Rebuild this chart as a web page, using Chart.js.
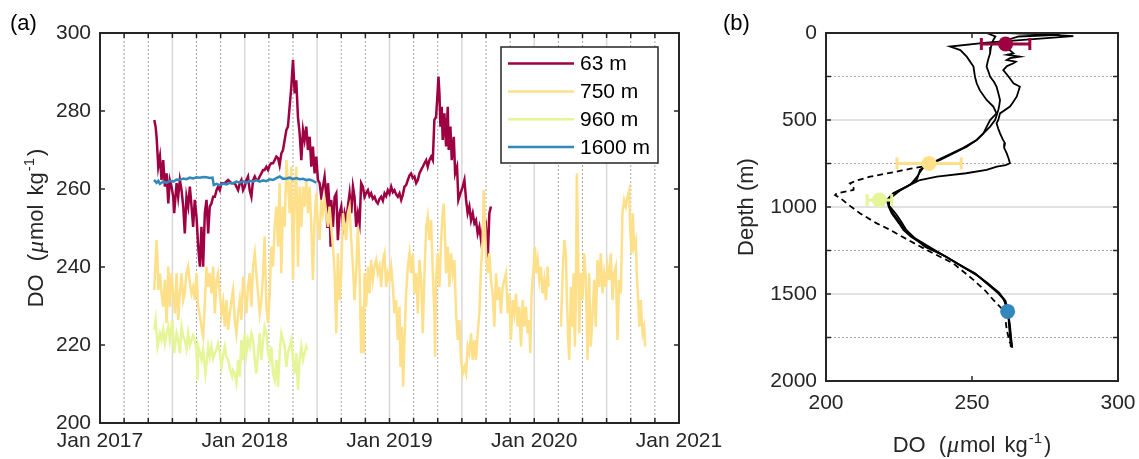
<!DOCTYPE html>
<html>
<head>
<meta charset="utf-8">
<script src="https://cdn.jsdelivr.net/npm/chart.js@4.4.1/dist/chart.umd.min.js"></script>
<style>
html,body{margin:0;padding:0;background:#fff;overflow:hidden;}
#wrap{position:relative;width:1139px;height:459px;}
#wrap canvas{position:absolute;left:0;top:0;}
</style>
</head>
<body>
<div id="wrap">
<canvas id="ca" width="1139" height="459"></canvas>
<canvas id="cb" width="1139" height="459"></canvas>
</div>
<script>
// ---------------- DATA: panel (a) time series, [months since Jan 2017, DO] ----------------
const s63 = [[4.50,277.7],[4.61,276.0],[4.69,273.4],[4.83,265.7],[4.97,268.3],[5.10,262.3],[5.24,267.4],[5.38,260.6],[5.52,264.0],[5.66,256.3],[5.79,262.3],[5.93,260.6],[6.07,258.0],[6.15,253.8],[6.35,261.5],[6.48,258.0],[6.62,262.3],[6.76,259.7],[6.90,255.5],[7.03,248.6],[7.17,258.0],[7.31,255.5],[7.45,260.6],[7.59,255.5],[7.72,250.3],[7.86,257.2],[8.00,252.9],[8.14,245.2],[8.28,240.1],[8.41,250.3],[8.55,240.1],[8.69,253.8],[8.83,257.2],[8.97,248.6],[9.10,255.5],[9.24,256.3],[9.38,258.0],[9.52,258.0],[9.66,259.7],[9.79,260.6],[9.93,259.7],[10.07,261.5],[10.35,261.5],[10.62,262.3],[10.90,261.5],[11.17,261.5],[11.31,260.6],[11.45,259.7],[11.59,261.5],[11.72,262.3],[11.86,259.7],[12.00,260.6],[12.14,262.3],[12.27,263.2],[12.41,259.7],[12.55,258.0],[12.69,262.3],[12.83,263.2],[12.96,262.3],[13.10,262.3],[13.24,263.2],[13.38,264.0],[13.52,264.9],[13.65,264.9],[13.79,265.7],[13.93,264.9],[14.07,266.1],[14.20,266.6],[14.34,266.6],[14.48,267.4],[14.62,268.3],[14.76,267.9],[14.89,266.1],[15.03,269.1],[15.17,270.0],[15.31,272.6],[15.45,275.1],[15.58,276.0],[15.72,281.1],[15.86,286.2],[16.00,293.1],[16.14,284.5],[16.27,287.9],[16.41,278.5],[16.55,274.3],[16.69,267.4],[16.83,275.1],[16.96,272.6],[17.10,276.0],[17.24,270.0],[17.38,273.4],[17.52,265.7],[17.65,270.9],[17.79,264.0],[17.93,268.3],[18.07,262.3],[18.21,261.5],[18.34,258.0],[18.48,260.6],[18.62,263.2],[18.76,258.0],[18.84,250.3],[18.90,261.5],[19.03,255.5],[19.12,245.2],[19.17,257.2],[19.31,250.3],[19.45,258.0],[19.59,258.9],[19.72,246.9],[19.86,253.8],[20.00,255.5],[20.14,250.3],[20.28,253.8],[20.41,252.0],[20.55,255.5],[20.69,258.9],[20.83,253.8],[20.97,260.6],[21.10,258.0],[21.24,250.3],[21.38,253.8],[21.52,251.2],[21.65,261.5],[21.79,260.6],[21.93,258.0],[22.07,259.0],[22.21,259.7],[22.34,258.2],[22.48,258.9],[22.62,257.5],[22.76,258.0],[22.90,256.8],[23.03,256.3],[23.17,257.4],[23.31,258.0],[23.45,257.0],[23.59,258.9],[23.72,258.2],[23.86,259.7],[24.00,258.8],[24.14,260.6],[24.28,259.2],[24.41,259.7],[24.55,258.6],[24.69,258.0],[24.83,258.9],[24.97,257.2],[25.10,258.5],[25.24,260.6],[25.38,261.0],[25.52,262.3],[25.66,263.5],[25.79,264.0],[25.93,262.8],[26.07,263.2],[26.21,261.5],[26.35,262.3],[26.48,264.0],[26.62,264.9],[26.76,265.7],[26.90,266.6],[27.04,267.4],[27.17,265.7],[27.31,267.4],[27.45,268.3],[27.59,267.4],[27.72,277.7],[27.86,278.5],[27.95,282.8],[28.06,288.8],[28.14,284.5],[28.22,276.0],[28.33,281.1],[28.41,272.6],[28.55,279.4],[28.69,270.9],[28.83,281.1],[28.91,270.0],[29.05,276.0],[29.16,267.4],[29.33,273.4],[29.44,264.0],[29.60,265.7],[29.71,257.2],[29.88,258.9],[30.07,260.6],[30.21,262.3],[30.35,257.2],[30.48,253.8],[30.62,255.5],[30.76,252.0],[30.90,253.8],[31.04,251.2],[31.17,252.0],[31.31,248.6],[31.45,250.3],[31.59,246.9],[31.72,249.5],[31.86,248.6],[32.00,250.3],[32.14,241.8],[32.28,253.8],[32.41,255.5]];

const s750 = [[4.50,234.1],[4.69,246.9],[4.77,241.8],[4.83,234.1],[4.97,238.4],[5.10,233.2],[5.24,229.8],[5.38,236.7],[5.52,225.6],[5.66,240.1],[5.79,229.8],[5.93,238.4],[6.07,233.2],[6.21,228.1],[6.35,238.4],[6.48,226.4],[6.62,233.2],[6.76,238.4],[6.90,231.5],[7.03,233.2],[7.17,238.4],[7.31,240.1],[7.45,236.0],[7.59,233.2],[7.72,234.9],[7.86,231.5],[8.00,238.4],[8.14,229.8],[8.28,227.5],[8.41,224.7],[8.55,222.1],[8.69,230.5],[8.83,240.1],[8.97,234.9],[9.10,238.4],[9.24,233.2],[9.38,240.1],[9.52,228.1],[9.66,236.7],[9.79,238.4],[9.93,233.2],[10.07,228.1],[10.21,231.0],[10.35,224.7],[10.48,231.5],[10.62,223.9],[10.76,228.0],[10.90,231.5],[11.03,234.1],[11.17,226.4],[11.31,223.0],[11.45,228.1],[11.59,231.5],[11.72,226.4],[11.86,237.5],[12.00,233.2],[12.14,228.1],[12.27,234.9],[12.41,238.4],[12.55,229.8],[12.69,240.1],[12.83,243.5],[12.96,238.4],[13.10,233.2],[13.24,228.1],[13.38,231.5],[13.52,238.4],[13.65,247.8],[13.79,229.8],[13.93,225.6],[14.07,233.2],[14.20,245.2],[14.34,240.1],[14.48,250.3],[14.62,255.5],[14.76,245.2],[14.89,261.5],[15.03,238.4],[15.17,255.5],[15.31,250.3],[15.45,267.4],[15.58,261.5],[15.72,253.8],[15.86,265.7],[16.00,236.7],[16.14,258.9],[16.27,265.7],[16.41,240.1],[16.55,260.6],[16.69,250.3],[16.83,260.6],[16.96,255.5],[17.10,262.3],[17.24,253.8],[17.38,260.6],[17.52,250.3],[17.65,236.7],[17.79,252.0],[17.93,258.9],[18.07,250.3],[18.21,246.9],[18.34,257.2],[18.48,253.8],[18.62,257.2],[18.76,253.8],[18.90,250.3],[19.03,255.5],[19.17,250.3],[19.31,245.2],[19.45,238.4],[19.59,223.0],[19.72,243.5],[19.86,231.5],[20.00,238.4],[20.14,253.8],[20.28,250.3],[20.41,246.9],[20.55,253.8],[20.69,255.5],[20.83,246.9],[20.97,240.1],[21.10,231.5],[21.24,238.4],[21.38,250.3],[21.52,238.4],[21.65,217.9],[21.79,229.8],[21.88,217.9],[21.93,238.4],[22.07,229.8],[22.21,240.1],[22.34,233.2],[22.48,241.8],[22.62,236.7],[22.76,240.1],[22.90,241.8],[23.03,238.4],[23.17,240.1],[23.31,234.9],[23.45,241.8],[23.59,243.5],[23.72,234.9],[23.86,238.4],[24.00,236.7],[24.14,240.1],[24.28,234.9],[24.41,228.1],[24.55,231.5],[24.69,221.3],[24.83,229.8],[24.91,214.4],[25.02,224.7],[25.13,209.3],[25.24,221.3],[25.38,233.2],[25.52,240.1],[25.66,243.5],[25.79,238.4],[25.93,243.5],[26.07,233.2],[26.21,238.4],[26.35,228.1],[26.48,241.8],[26.62,236.7],[26.76,223.0],[26.90,238.4],[27.04,250.3],[27.17,252.9],[27.31,246.9],[27.45,252.0],[27.59,238.4],[27.72,228.1],[27.78,217.0],[27.86,236.7],[27.99,243.5],[28.14,234.9],[28.28,246.9],[28.41,253.8],[28.50,256.3],[28.61,246.9],[28.69,238.4],[28.83,245.2],[28.97,234.9],[29.10,243.5],[29.24,238.4],[29.38,241.8],[29.52,228.1],[29.66,221.3],[29.79,226.4],[29.93,216.2],[30.07,212.7],[30.21,214.4],[30.35,212.7],[30.48,219.6],[30.62,217.9],[30.76,223.0],[30.90,216.2],[31.04,221.3],[31.17,216.2],[31.31,223.0],[31.45,228.1],[31.59,240.1],[31.72,246.9],[31.81,259.7],[31.92,250.3],[32.00,243.5],[32.14,238.4],[32.28,243.5],[32.41,236.7],[32.55,233.2],[32.69,224.7],[32.83,238.4],[32.97,231.5],[33.10,234.9],[33.24,228.1],[33.38,234.9],[33.52,236.7],[33.66,238.4],[33.80,228.1],[33.93,233.2],[34.07,221.3],[34.21,231.5],[34.35,228.1],[34.49,233.2],[34.62,224.7],[34.76,229.8],[34.90,219.6],[35.04,231.5],[35.17,224.7],[35.31,229.8],[35.45,223.0],[35.59,226.4],[35.67,217.9],[35.78,233.2],[35.86,236.7],[35.95,240.1],[36.06,245.2],[36.14,238.4],[36.28,241.8],[36.42,236.7],[36.55,240.1],[36.69,233.2],[36.83,236.7],[36.97,231.5],[37.11,240.1],[37.19,234.9],[37.70,null],[38.21,224.7],[38.35,238.4],[38.49,246.9],[38.62,243.5],[38.71,231.5],[38.82,221.3],[38.90,216.2],[39.04,234.9],[39.17,224.7],[39.26,238.4],[39.37,219.6],[39.45,231.5],[39.53,264.0],[39.64,243.5],[39.73,223.0],[39.86,238.4],[40.00,231.5],[40.14,243.5],[40.28,236.7],[40.42,216.2],[40.55,238.4],[40.69,219.6],[40.83,228.1],[40.97,236.7],[41.10,224.7],[41.24,241.8],[41.38,234.9],[41.52,243.5],[41.66,233.2],[41.80,238.4],[41.94,234.9],[42.07,240.1],[42.21,236.7],[42.35,243.5],[42.49,231.5],[42.62,238.4],[42.76,240.1],[42.90,221.3],[43.04,236.7],[43.18,233.2],[43.31,253.8],[43.45,257.2],[43.59,255.5],[43.73,258.0],[43.87,259.7],[43.95,250.3],[44.06,243.5],[44.17,253.8],[44.28,245.2],[44.42,246.9],[44.50,238.4],[44.61,231.5],[44.72,224.7],[44.83,231.5],[44.91,226.4],[44.99,223.0],[45.11,224.7],[45.19,219.6]];

const s960 = [[4.50,223.9],[4.61,226.4],[4.77,219.6],[4.97,223.0],[5.10,221.3],[5.24,223.9],[5.38,220.4],[5.52,223.0],[5.66,224.7],[5.79,221.3],[5.99,226.4],[6.15,217.9],[6.35,223.0],[6.48,221.3],[6.62,217.9],[6.76,224.7],[6.90,222.0],[7.03,221.3],[7.17,219.0],[7.31,223.0],[7.45,220.0],[7.59,221.3],[7.72,222.5],[7.86,221.3],[8.00,218.5],[8.08,211.0],[8.14,219.6],[8.28,218.0],[8.41,216.2],[8.55,218.7],[8.74,212.7],[8.97,219.6],[9.10,217.0],[9.24,219.6],[9.38,216.5],[9.52,217.9],[9.66,219.0],[9.79,220.4],[9.93,218.0],[10.07,214.4],[10.21,217.5],[10.35,219.6],[10.48,217.0],[10.62,216.2],[10.76,214.0],[10.95,211.9],[11.03,213.5],[11.17,212.7],[11.31,210.2],[11.45,216.2],[11.59,211.9],[11.72,221.3],[11.86,216.2],[12.00,223.0],[12.14,217.9],[12.27,221.3],[12.41,219.6],[12.55,223.0],[12.69,221.3],[12.83,216.2],[12.96,212.7],[13.10,217.9],[13.24,223.0],[13.38,216.2],[13.52,221.3],[13.65,224.7],[13.79,223.0],[13.93,217.9],[14.07,216.2],[14.20,219.6],[14.34,212.7],[14.48,211.0],[14.62,216.2],[14.76,209.3],[14.89,217.9],[15.03,223.0],[15.17,221.3],[15.31,219.6],[15.45,214.4],[15.58,217.9],[15.72,219.6],[15.86,221.3],[16.00,216.2],[16.14,212.7],[16.27,217.9],[16.41,208.5],[16.55,216.2],[16.69,219.6],[16.83,216.2],[16.96,217.9],[17.10,219.6],[17.18,218.7]];

const s1600 = [[4.47,262.3],[4.58,262.0],[4.69,261.6],[4.83,262.1],[4.97,261.3],[5.24,261.9],[5.52,261.6],[5.79,262.1],[6.07,261.9],[6.35,262.4],[6.62,262.3],[6.90,262.7],[7.17,262.5],[7.45,262.9],[7.72,262.7],[8.00,263.0],[8.28,262.9],[8.55,263.1],[8.83,263.0],[9.10,262.8],[9.33,262.9],[9.43,261.0],[9.66,261.3],[9.93,261.0],[10.21,261.4],[10.48,261.2],[10.76,261.6],[11.03,261.5],[11.31,261.9],[11.59,261.6],[11.86,262.0],[12.14,261.6],[12.41,262.1],[12.69,261.9],[12.96,262.3],[13.24,261.9],[13.52,262.2],[13.79,262.0],[14.07,262.5],[14.34,262.3],[14.62,262.8],[14.90,263.2],[15.17,262.6],[15.45,262.7],[15.72,262.9],[16.00,262.5],[16.27,262.8],[16.55,262.5],[16.83,262.6],[17.10,262.3],[17.38,262.4],[17.65,262.1],[17.93,261.6]];

const seriesLabels = ['63 m', '750 m', '960 m', '1600 m'];
const seriesColors = ['#9e0142', '#fee08b', '#e6f598', '#3288bd'];
const yearTicks = ['Jan 2017', 'Jan 2018', 'Jan 2019', 'Jan 2020', 'Jan 2021'];

// ---------------- DATA: panel (b) profiles, [depth m, DO] ----------------
const prof1 = [[0,262],[8,275],[18,284.7],[35,271],[55,255],[78,242.5],[98,246],[136,248.2],[193,250.5],[250,251],[289,251.6],[330,252.7],[385,255],[423,257.3],[462,258.4],[500,256.2],[540,255],[577,253.9],[615,251.6],[653,248.2],[692,243.6],[730,239.1],[749,235.6],[787,232.2],[845,231.1],[883,227.6],[921,223.1],[960,220.8],[1000,221.5],[1036,222.5],[1094,225],[1132,226.5],[1170,229],[1228,234.5],[1285,241],[1343,247],[1381,251],[1438,255],[1496,259],[1534,261],[1592,262],[1668,262.8],[1745,263.2],[1800,263.6]];
const prof2 = [[0,255],[20,258],[40,257.3],[80,256.5],[117,256.2],[155,255.5],[193,255],[230,255.8],[251,256.2],[280,257.5],[308,258.4],[345,259],[385,259.6],[420,259.3],[442,259],[470,258.5],[500,257.9],[538,256.2],[577,253.9],[615,251.6],[660,247],[700,242],[740,237],[780,233],[830,231],[870,229],[910,225],[950,222],[990,221.5],[1040,224],[1090,226],[1132,227.5],[1180,230.5],[1230,235.5],[1290,241.5],[1340,246.5],[1390,251.5],[1440,255.5],[1500,259.5],[1540,261.5],[1600,262.3],[1680,263],[1750,263.4],[1810,263.8]];
const prof3 = [[0,270],[10,280],[20,266],[40,262],[60,260],[80,262],[100,263],[117,264.2],[125,262],[136,266.4],[145,263],[155,261.9],[165,265],[174,264.2],[190,262],[213,260.7],[250,262.5],[289,264.2],[308,266.4],[340,265.8],[366,265.3],[400,264],[423,263],[462,259.6],[500,259],[519,258.4],[550,259],[577,259.6],[610,260.5],[634,261.3],[660,261],[692,261.9],[720,262.5],[749,263],[760,261.5],[768,258.5],[787,255],[806,248],[825,238],[845,232.2],[883,227.6],[921,223.1],[960,221],[1000,221.8],[1036,223],[1094,225.5],[1132,227],[1175,230],[1230,234],[1280,240.5],[1340,246.5],[1385,251.2],[1440,255.3],[1490,259.2],[1530,260.8],[1590,262.5],[1670,262.6],[1740,263],[1805,263.3]];
const profDashed = [[768,233],[780,229],[790,226],[800,223.1],[826,215.1],[845,211],[864,208.2],[883,209.5],[902,209.4],[921,203.7],[931,203.1],[950,205],[979,207.1],[1036,211.6],[1094,217.4],[1132,222],[1170,226],[1247,234.5],[1324,243.6],[1419,250.5],[1480,254.5],[1534,257.3],[1592,260.7],[1650,261.5],[1707,261.9],[1783,263]];

const meanDepth = [63, 750, 960, 1600];
const meanDO = [261.5, 235.3, 218.3, 262.2];
const sdDO = [8.3, 11.0, 4.2, 0];

// ---------------- STYLE / HELPERS ----------------
const FONT = "'Liberation Sans', Arial, Helvetica, sans-serif";
const AX = '#262626';
const GRID_SOLID = '#d9d9d9';
const GRID_DOT = '#a6a6a6';

function richText(ctx, parts, x, y, angle) {
  ctx.save();
  ctx.translate(x, y);
  ctx.rotate(angle);
  ctx.textBaseline = 'alphabetic';
  ctx.textAlign = 'left';
  ctx.fillStyle = AX;
  let total = 0;
  for (const p of parts) { ctx.font = p.font; total += (p.gap || 0) + ctx.measureText(p.t).width; }
  let cx = -total / 2;
  for (const p of parts) {
    ctx.font = p.font; cx += (p.gap || 0);
    ctx.fillText(p.t, cx, p.dy || 0);
    cx += ctx.measureText(p.t).width;
  }
  ctx.restore();
}
function doTitleParts() {
  const f = `22px ${FONT}`;
  return [
    {t: 'DO', font: f},
    {t: '(', font: f, gap: 13},
    {t: 'μ', font: `italic 24px 'Liberation Serif', 'DejaVu Serif', serif`, gap: 1},
    {t: 'mol', font: f, gap: 1},
    {t: 'kg', font: f, gap: 9},
    {t: '-1', font: `15px ${FONT}`, dy: -9, gap: 1},
    {t: ')', font: f, gap: 2}
  ];
}
function line(ctx, x1, y1, x2, y2) { ctx.beginPath(); ctx.moveTo(x1, y1); ctx.lineTo(x2, y2); ctx.stroke(); }

function gridPlugin(kind) {
  return {
    id: 'grid_' + kind,
    beforeDatasetsDraw(chart) {
      const {ctx, chartArea: a} = chart;
      const xs = chart.scales.x, ys = chart.scales.y;
      ctx.save();
      if (kind === 'a') {
        xs.ticks.forEach(t => {
          const v = t.value; if (v <= xs.min || v >= xs.max) return;
          const px = xs.getPixelForValue(v);
          if (v % 6 === 0) { ctx.strokeStyle = GRID_SOLID; ctx.lineWidth = 1.5; ctx.setLineDash([]); }
          else { ctx.strokeStyle = GRID_DOT; ctx.lineWidth = 1; ctx.setLineDash([2, 2]); }
          line(ctx, px, a.top, px, a.bottom);
        });
      } else {
        ys.ticks.forEach(t => {
          const v = t.value; if (v <= ys.min || v >= ys.max) return;
          const py = ys.getPixelForValue(v);
          if (v % 500 === 0) { ctx.strokeStyle = GRID_SOLID; ctx.lineWidth = 1.5; ctx.setLineDash([]); }
          else { ctx.strokeStyle = GRID_DOT; ctx.lineWidth = 1; ctx.setLineDash([2, 2]); }
          line(ctx, a.left, py, a.right, py);
        });
      }
      ctx.restore();
    },
    afterDatasetsDraw(chart) {
      const {ctx, chartArea: a} = chart;
      const xs = chart.scales.x, ys = chart.scales.y;
      ctx.save();
      ctx.strokeStyle = AX; ctx.lineWidth = 1.5; ctx.setLineDash([]);
      const TL = 5;
      xs.ticks.forEach(t => {
        if (t.value <= xs.min || t.value >= xs.max) return;
        const px = xs.getPixelForValue(t.value);
        line(ctx, px, a.bottom, px, a.bottom - TL);
        line(ctx, px, a.top, px, a.top + TL);
      });
      ys.ticks.forEach(t => {
        if (t.value <= ys.min || t.value >= ys.max) return;
        const py = ys.getPixelForValue(t.value);
        line(ctx, a.left, py, a.left + TL, py);
        line(ctx, a.right, py, a.right - TL, py);
      });
      ctx.lineWidth = 2;
      ctx.strokeRect(a.left, a.top, a.right - a.left, a.bottom - a.top);
      ctx.restore();
    }
  };
}

const annotA = {
  id: 'annotA',
  afterDraw(chart) {
    const ctx = chart.ctx, a = chart.chartArea;
    const L = a.left + 401, T = a.top + 14, W = 157, H = 116;
    ctx.save();
    ctx.fillStyle = '#fff'; ctx.fillRect(L, T, W, H);
    ctx.strokeStyle = AX; ctx.lineWidth = 1.5; ctx.strokeRect(L, T, W, H);
    ctx.font = `21px ${FONT}`; ctx.textBaseline = 'middle'; ctx.textAlign = 'left';
    chart.data.datasets.forEach((ds, i) => {
      const y = T + 16.6 + i * 27.8;
      ctx.strokeStyle = ds.borderColor; ctx.lineWidth = 2.5;
      line(ctx, L + 7, y, L + 73, y);
      ctx.fillStyle = '#000';
      ctx.fillText(ds.label, L + 79, y + 1);
    });
    ctx.fillStyle = '#000'; ctx.font = `22px ${FONT}`; ctx.textBaseline = 'alphabetic';
    ctx.fillText('(a)', 10, 30);
    ctx.restore();
    richText(ctx, doTitleParts(), 43, (a.top + a.bottom) / 2, -Math.PI / 2);
  }
};

const annotB = {
  id: 'annotB',
  afterDraw(chart) {
    const ctx = chart.ctx, a = chart.chartArea;
    ctx.save();
    ctx.fillStyle = '#000'; ctx.font = `22px ${FONT}`; ctx.textBaseline = 'alphabetic'; ctx.textAlign = 'left';
    ctx.fillText('(b)', 723, 30);
    ctx.restore();
    richText(ctx, [{t: 'Depth (m)', font: `22px ${FONT}`}], 753, (a.top + a.bottom) / 2, -Math.PI / 2);
    richText(ctx, doTitleParts(), (a.left + a.right) / 2, 452, 0);
  }
};

// ---------------- CHART (a) ----------------
const seriesA = [s63, s750, s960, s1600];
new Chart(document.getElementById('ca'), {
  type: 'line',
  data: {
    datasets: seriesA.map((s, i) => ({
      label: seriesLabels[i],
      data: s.map(([t, v]) => ({x: t, y: v})),
      borderColor: seriesColors[i],
      backgroundColor: seriesColors[i],
      borderWidth: 2.5,
      pointRadius: 0,
      tension: 0,
      spanGaps: false,
      order: seriesA.length - i
    }))
  },
  options: {
    responsive: false, animation: false, events: [],
    layout: {padding: {left: 0, top: 33, right: 460, bottom: 0}},
    plugins: {legend: {display: false}, tooltip: {enabled: false}},
    scales: {
      x: {
        type: 'linear', min: 0, max: 48,
        grid: {display: false, drawTicks: false}, border: {display: false},
        ticks: {stepSize: 2, autoSkip: false, maxRotation: 0, minRotation: 0, padding: 6,
          font: {family: FONT, size: 21}, color: AX,
          callback: v => (v % 12 === 0 ? yearTicks[v / 12] : '')},
        afterFit: s => { s.height = 36; }
      },
      y: {
        type: 'linear', min: 200, max: 300,
        grid: {display: false, drawTicks: false}, border: {display: false},
        ticks: {stepSize: 20, padding: 9, font: {family: FONT, size: 21}, color: AX},
        afterFit: s => { s.width = 100; }
      }
    }
  },
  plugins: [gridPlugin('a'), annotA]
});

// ---------------- CHART (b) ----------------
const profDatasets = [prof1, prof2, prof3].map(p => ({
  data: p.map(([d, v]) => ({x: v, y: d})),
  showLine: true, borderColor: '#000', borderWidth: 1.8, pointRadius: 0, tension: 0, order: 3
}));
profDatasets.push({
  data: profDashed.map(([d, v]) => ({x: v, y: d})),
  showLine: true, borderColor: '#000', borderWidth: 1.8, borderDash: [6, 4], pointRadius: 0, tension: 0, order: 3
});
const errDatasets = meanDepth.map((d, i) => ({
  data: [{x: meanDO[i] - sdDO[i], y: d}, {x: meanDO[i] + sdDO[i], y: d}],
  showLine: true, borderColor: seriesColors[i], borderWidth: 3,
  pointStyle: 'line', rotation: 90, pointRadius: sdDO[i] > 0 ? 6 : 0,
  pointBorderColor: seriesColors[i], pointBorderWidth: 3, order: 2
})).filter((ds, i) => sdDO[i] > 0);
const dotDataset = {
  data: meanDepth.map((d, i) => ({x: meanDO[i], y: d})),
  showLine: false, pointRadius: 7.5, pointBackgroundColor: seriesColors, pointBorderWidth: 0,
  pointBorderColor: seriesColors, order: 0
};

new Chart(document.getElementById('cb'), {
  type: 'scatter',
  data: {datasets: [...profDatasets, ...errDatasets, dotDataset]},
  options: {
    responsive: false, animation: false, events: [],
    layout: {padding: {left: 736, top: 33, right: 21, bottom: 0}},
    plugins: {legend: {display: false}, tooltip: {enabled: false}},
    scales: {
      x: {
        type: 'linear', min: 200, max: 300,
        grid: {display: false, drawTicks: false}, border: {display: false},
        ticks: {stepSize: 50, padding: 0, autoSkip: false, maxRotation: 0,
          font: {family: FONT, size: 21, lineHeight: 2.15}, color: AX},
        afterFit: s => { s.height = 78; }
      },
      y: {
        type: 'linear', min: 0, max: 2000, reverse: true,
        grid: {display: false, drawTicks: false}, border: {display: false},
        ticks: {stepSize: 250, padding: 9, autoSkip: false, font: {family: FONT, size: 21}, color: AX,
          callback: v => (v % 500 === 0 ? String(v) : '')},
        afterFit: s => { s.width = 90; }
      }
    }
  },
  plugins: [gridPlugin('b'), annotB]
});
</script>
</body>
</html>
